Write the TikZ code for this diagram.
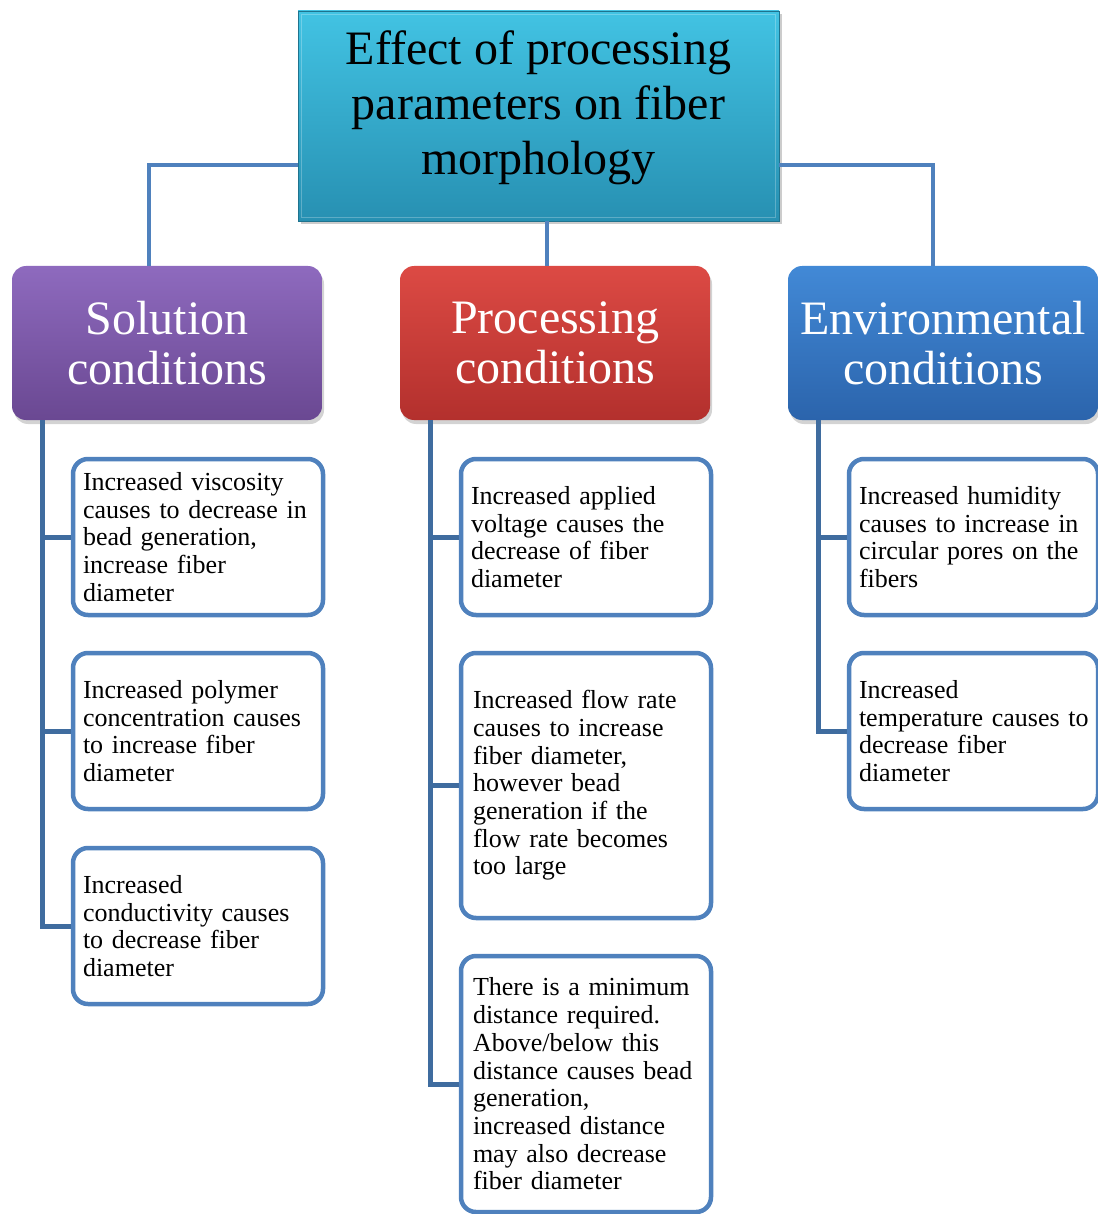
\documentclass[tikz,border=0pt]{standalone}
\usepackage{fontspec}
\setmainfont{Liberation Serif}
\usetikzlibrary{shadows,calc}
\definecolor{topA}{HTML}{42C3E3}
\definecolor{topB}{HTML}{2790B2}
\definecolor{purA}{HTML}{8E6ABE}
\definecolor{purB}{HTML}{6A4892}
\definecolor{redA}{HTML}{DC4A44}
\definecolor{redB}{HTML}{B3302D}
\definecolor{bluA}{HTML}{4289D6}
\definecolor{bluB}{HTML}{2B64AC}
\definecolor{lineA}{HTML}{4F81BD}
\definecolor{lineB}{HTML}{3F6C9F}
\definecolor{boxline}{HTML}{4F81BD}
\tikzset{
  titlebox/.style={draw=topB!80!black, line width=0.8pt, top color=topA, bottom color=topB,
    minimum width=481pt, minimum height=210pt, align=center, inner sep=0pt,
    font=\fontsize{48}{55}\selectfont,
    drop shadow={opacity=0.4, shadow xshift=3pt, shadow yshift=-3pt}},
  headbox/.style={rounded corners=14pt, minimum width=310pt, minimum height=154pt,
    align=center, inner sep=0pt, text=white, font=\fontsize{48}{50}\selectfont,
    drop shadow={opacity=0.35, shadow xshift=2pt, shadow yshift=-4pt}},
  itembox/.style={draw=boxline, line width=4.5pt, rounded corners=15pt, fill=white,
    minimum height=156pt, text width=230pt, inner xsep=10pt, inner ysep=0pt, align=left,
    font=\fontsize{26}{27.7}\selectfont},
  conn/.style={draw=lineA, line width=4pt},
  vconn/.style={draw=lineB, line width=5pt},
}
\begin{document}
\begin{tikzpicture}[x=1pt,y=-1pt]
\useasboundingbox (0,0) rectangle (1097,1214);
% title
\node[titlebox] (top) at (538.5,116) {\raisebox{7pt}[\height][\depth]{\renewcommand\arraystretch{1}\begin{tabular}{@{}c@{}}Effect of processing\\parameters on fiber\\morphology\end{tabular}}};
\draw[white, opacity=0.25, line width=1.5pt] ([shift={(4pt,-4pt)}]top.north west) rectangle ([shift={(-4pt,4pt)}]top.south east);
\node[headbox, top color=purA, bottom color=purB] (sol) at (167,343) {Solution\\conditions};
\node[headbox, top color=redA, bottom color=redB] (proc) at (555,343) {Processing\\conditions};
\node[headbox, top color=bluA, bottom color=bluB] (env) at (943,343) {Environmental\\conditions};
\draw[conn] ([yshift=-49pt]top.west) -| ([xshift=-18pt]sol.north);
\draw[conn] ([xshift=8.5pt]top.south) -- ([xshift=8.5pt]top.south |- proc.north);
\draw[conn] ([yshift=-49pt]top.east) -| ([xshift=-10pt]env.north);
% solution items
\node[itembox] (s1) at (198,537) {Increased viscosity\\causes to decrease in\\bead generation,\\increase fiber\\diameter};
\node[itembox] (s2) at (198,731) {Increased polymer\\concentration causes\\to increase fiber\\diameter};
\node[itembox] (s3) at (198,926) {Increased\\conductivity causes\\to decrease fiber\\diameter};
% processing items
\node[itembox] (p1) at (586,537) {Increased applied\\voltage causes the\\decrease of fiber\\diameter};
\node[itembox, minimum height=265pt, inner xsep=12pt, text width=226pt] (p2) at (586,785.5) {Increased flow rate\\causes to increase\\fiber diameter,\\however bead\\generation if the\\flow rate becomes\\too large};
\node[itembox, minimum height=256pt, inner xsep=12pt, text width=226pt] (p3) at (586,1084) {There is a minimum\\distance required.\\Above/below this\\distance causes bead\\generation,\\increased distance\\may also decrease\\fiber diameter};
% environmental items
\node[itembox, text width=229pt] (e1) at (973.5,537) {Increased humidity\\causes to increase in\\circular pores on the\\fibers};
\node[itembox, text width=229pt] (e2) at (973.5,731) {Increased\\\mbox{temperature causes to}\\decrease fiber\\diameter};
% vertical trunks
\coordinate (sv) at ([xshift=31pt]sol.south west);
\coordinate (pv) at ([xshift=31pt]proc.south west);
\coordinate (ev) at ([xshift=31pt]env.south west);
\draw[vconn] (sv) |- (s3.west);
\draw[vconn] (s1.west) -- (s1.west -| sv);
\draw[vconn] (s2.west) -- (s2.west -| sv);
\draw[vconn] (pv) |- (p3.west);
\draw[vconn] (p1.west) -- (p1.west -| pv);
\draw[vconn] (p2.west) -- (p2.west -| pv);
\draw[vconn] (ev) |- (e2.west);
\draw[vconn] (e1.west) -- (e1.west -| ev);
\end{tikzpicture}
\end{document}
